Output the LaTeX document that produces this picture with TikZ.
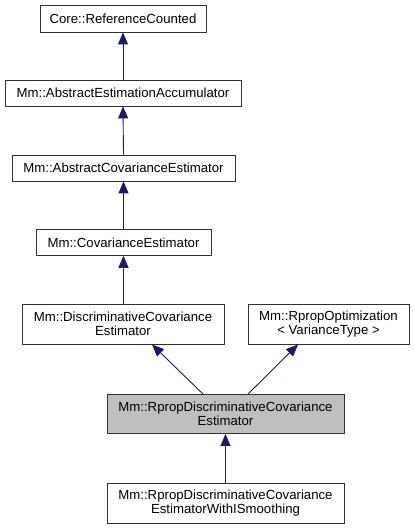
\documentclass[tikz,border=0pt]{standalone}
\usepackage{fontspec}
\setmainfont{Liberation Sans}
\usetikzlibrary{arrows.meta}
\definecolor{edgeblue}{HTML}{191970}
\definecolor{boxgrey}{HTML}{BFBFBF}
\definecolor{boxline}{HTML}{303030}
\tikzset{
  cls/.style={draw=boxline, line width=0.9pt, fill=white, inner sep=0pt, align=center,
    font=\fontsize{13.2}{14.3}\selectfont},
  current/.style={cls, fill=boxgrey},
  inherit/.style={draw=edgeblue, line width=0.9pt,
    {Triangle[length=12pt,width=10pt]}-}
}
\begin{document}
\begin{tikzpicture}[x=1pt,y=-1pt]
\useasboundingbox (0,0) rectangle (414,529);
\node[cls, minimum width=166pt, minimum height=27pt] (n1) at (123,18.5) {Core::ReferenceCounted};
\node[cls, minimum width=236pt, minimum height=26pt] (n2) at (123,93) {Mm::AbstractEstimationAccumulator};
\node[cls, minimum width=223pt, minimum height=26pt] (n3) at (123.5,168) {Mm::AbstractCovarianceEstimator};
\node[cls, minimum width=175pt, minimum height=26pt] (n4) at (123.5,242.3) {Mm::CovarianceEstimator};
\node[cls, minimum width=202pt, minimum height=40pt] (n5) at (123,324) {Mm::DiscriminativeCovariance\\Estimator};
\node[cls, minimum width=161pt, minimum height=40pt] (n6) at (328.5,324) {Mm::RpropOptimization\\< VarianceType >};
\node[current, minimum width=237pt, minimum height=39pt] (n7) at (225.5,414) {Mm::RpropDiscriminativeCovariance\\Estimator};
\node[cls, minimum width=237pt, minimum height=40pt] (n8) at (225.5,503) {Mm::RpropDiscriminativeCovariance\\EstimatorWithISmoothing};
\draw[inherit] (n1.south) -- (n2.north);
\draw[inherit] (n2.south) -- (n3.north);
\draw[inherit] (n3.south -| n4.south) -- (n4.north);
\draw[inherit] (n4.south) -- (n5.north -| n4.south);
\draw[inherit] ([xshift=29pt]n5.south) -- ([xshift=-22.5pt]n7.north);
\draw[inherit] ([xshift=-30.5pt]n6.south) -- ([xshift=22.5pt]n7.north);
\draw[inherit] (n7.south) -- (n8.north);
\end{tikzpicture}
\end{document}
